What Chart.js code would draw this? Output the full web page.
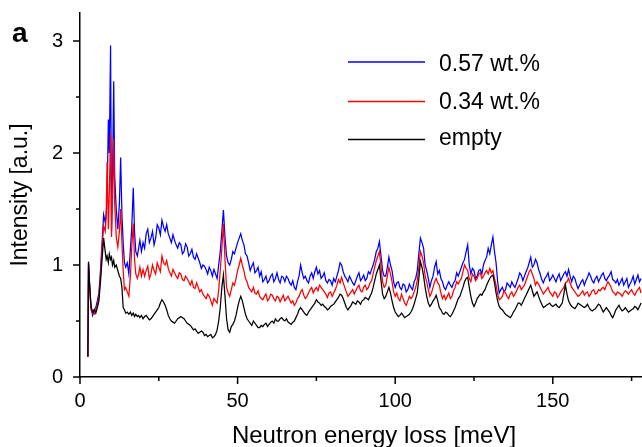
<!DOCTYPE html>
<html>
<head>
<meta charset="utf-8">
<script src="https://cdn.jsdelivr.net/npm/chart.js@4.4.1/dist/chart.umd.min.js"></script>
<style>
  html, body { margin: 0; padding: 0; background: #fff; }
  #wrap { width: 642px; height: 447px; }
</style>
</head>
<body>
<div id="wrap"><canvas id="spectrum" width="642" height="447"></canvas></div>
<script>
// Neutron energy loss [meV]
var energy = [
  2.5, 2.7, 3, 3.5, 4, 4.5, 5, 5.5, 6, 6.5,
  7, 7.5, 8, 8.3, 8.6, 9, 9.3, 9.7, 10, 10.3,
  10.7, 11, 11.5, 12, 12.5, 12.9, 13.3, 13.7, 14.1, 14.5,
  15, 15.5, 16, 16.4, 16.9, 17.3, 17.7, 18.2, 18.6, 19,
  19.5, 20,
  20.5, 21, 21.5, 22, 22.5, 23, 23.5, 24, 24.5, 25,
  25.5, 26, 26.5, 27, 27.5, 28, 28.5, 29, 29.5, 30,
  30.5, 31, 31.5, 32, 32.5, 33, 33.5, 34, 34.5, 35,
  35.5, 36, 36.5, 37, 37.5, 38, 38.5, 39, 39.5, 40,
  40.5, 41, 41.5, 42, 42.5, 43, 43.5, 44, 44.5, 45,
  45.5, 46, 46.5, 47, 47.5, 48, 48.5, 49, 49.5, 50,
  50.5, 51, 51.5, 52, 52.5, 53, 53.5, 54, 54.5, 55,
  55.5, 56, 56.5, 57, 57.5, 58, 58.5, 59, 59.5, 60,
  60.5, 61, 61.5, 62, 62.5, 63, 63.5, 64, 64.5, 65,
  65.5, 66, 66.5, 67, 67.5, 68, 68.5, 69, 69.5, 70,
  70.5, 71, 71.5, 72, 72.5, 73, 73.5, 74, 74.5, 75,
  75.5, 76, 76.5, 77, 77.5, 78, 78.5, 79, 79.5, 80,
  80.5, 81, 81.5, 82, 82.5, 83, 83.5, 84, 84.5, 85,
  85.5, 86, 86.5, 87, 87.5, 88, 88.5, 89, 89.5, 90,
  90.5, 91, 91.5, 92, 92.5, 93, 93.5, 94, 94.5, 95,
  95.5, 96, 96.5, 97, 97.5, 98, 98.5, 99, 99.5, 100,
  100.5, 101, 101.5, 102, 102.5, 103, 103.5, 104, 104.5, 105,
  105.5, 106, 106.5, 107, 107.5, 108, 108.5, 109, 109.5, 110,
  110.5, 111, 111.5, 112, 112.5, 113, 113.5, 114, 114.5, 115,
  115.5, 116, 116.5, 117, 117.5, 118, 118.5, 119, 119.5, 120,
  120.5, 121, 121.5, 122, 122.5, 123, 123.5, 124, 124.5, 125,
  125.5, 126, 126.5, 127, 127.5, 128, 128.5, 129, 129.5, 130,
  130.5, 131, 131.5, 132, 132.5, 133, 133.5, 134, 134.5, 135,
  135.5, 136, 136.5, 137, 137.5, 138, 138.5, 139, 139.5, 140,
  140.5, 141, 141.5, 142, 142.5, 143, 143.5, 144, 144.5, 145,
  145.5, 146, 146.5, 147, 147.5, 148, 148.5, 149, 149.5, 150,
  150.5, 151, 151.5, 152, 152.5, 153, 153.5, 154, 154.5, 155,
  155.5, 156, 156.5, 157, 157.5, 158, 158.5, 159, 159.5, 160,
  160.5, 161, 161.5, 162, 162.5, 163, 163.5, 164, 164.5, 165,
  165.5, 166, 166.5, 167, 167.5, 168, 168.5, 169, 169.5, 170,
  170.5, 171, 171.5, 172, 172.5, 173, 173.5, 174, 174.5, 175,
  175.5, 176, 176.5, 177, 177.5, 178
];

// 0.57 wt.% (blue)
var wt057 = [
  0.18, 1.02, 0.85, 0.62, 0.55, 0.6, 0.62, 0.68, 0.75, 0.95,
  1.2, 1.45, 1.38, 1.45, 1.6, 2.3, 2.0, 2.96, 1.3, 1.75,
  2.64, 1.8, 1.5, 1.32, 1.55, 1.96, 1.45, 1.2, 1.02, 0.98,
  1.02, 0.92, 1.15, 1.32, 1.69, 1.3, 1.12, 1.08, 1.15, 1.22,
  1.12, 1.2,
  1.15, 1.28, 1.32, 1.2, 1.24, 1.3, 1.18, 1.24, 1.36, 1.33,
  1.27, 1.4, 1.34, 1.3, 1.36, 1.28, 1.24, 1.2, 1.27, 1.22,
  1.18, 1.15, 1.2, 1.18, 1.1, 1.12, 1.19, 1.16, 1.08, 1.1,
  1.14, 1.07, 1.05, 1.1, 1.06, 1.02, 0.97, 1.0, 0.99, 0.96,
  0.92, 0.98, 0.95, 0.9, 0.96, 0.92, 0.88, 1.0, 1.12, 1.3,
  1.49, 1.25, 1.08, 1.02, 1.0, 1.05, 1.12, 1.1, 1.15, 1.2,
  1.24, 1.28, 1.22, 1.18, 1.1, 1.08, 1.02, 0.95, 0.99, 1.02,
  0.93, 0.95, 0.98, 0.9, 0.94, 0.85, 0.87, 0.9, 0.84, 0.86,
  0.9, 0.92, 0.85, 0.88, 0.93, 0.87, 0.84, 0.9, 0.89, 0.85,
  0.9, 0.88, 0.84, 0.82, 0.86, 0.8, 0.78, 0.85, 0.9, 1.0,
  0.93, 0.88, 0.9, 0.86, 0.84, 0.9, 0.93, 0.88, 0.94, 0.98,
  0.92, 0.95, 0.88, 0.9, 0.93, 0.86, 0.84, 0.87, 0.86, 0.82,
  0.88, 0.85, 0.9, 0.95, 1.02, 1.0, 0.94, 0.9, 0.88, 0.85,
  0.9, 0.87, 0.84, 0.82, 0.86, 0.9, 0.93, 0.86, 0.88, 0.91,
  0.86, 0.88, 0.94, 0.92, 0.96, 1.0, 1.05, 1.12, 1.15, 1.21,
  1.08, 0.95, 0.9, 0.9, 0.98, 1.07, 1.0, 0.95, 0.85, 0.8,
  0.84, 0.85, 0.8, 0.78, 0.83, 0.82, 0.76, 0.78, 0.83, 0.8,
  0.78, 0.85, 0.88, 0.95, 1.1, 1.24, 1.2, 1.15, 1.0, 0.95,
  0.88, 0.8, 0.86, 0.9, 0.98, 1.03, 0.92, 0.95, 0.88, 0.85,
  0.8, 0.78, 0.82, 0.85, 0.82, 0.8, 0.84, 0.86, 0.93, 0.9,
  0.94, 0.98, 1.02, 1.05, 1.12, 1.18, 1.0, 0.92, 0.97, 0.95,
  0.88, 0.9, 0.95, 0.96, 0.92, 1.0, 1.04, 1.07, 1.15, 1.1,
  1.18, 1.25, 1.12, 1.02, 0.85, 0.75, 0.78, 0.8, 0.76, 0.78,
  0.84, 0.82, 0.8, 0.85, 0.82, 0.8, 0.84, 0.88, 0.93, 0.91,
  0.86, 0.9, 0.94, 0.97, 1.02, 1.07, 0.98, 1.0, 1.05, 1.02,
  0.96, 0.92, 0.87, 0.84, 0.88, 0.9, 0.93, 0.86, 0.88, 0.91,
  0.88, 0.85, 0.89, 0.92, 0.86, 0.89, 0.92, 0.94, 0.9, 0.96,
  0.9, 0.85, 0.9, 0.88, 0.83, 0.79, 0.82, 0.85, 0.87, 0.82,
  0.86, 0.89, 0.93, 0.9, 0.86, 0.84, 0.88, 0.9, 0.85, 0.88,
  0.91, 0.93, 0.88, 0.86, 0.89, 0.91, 0.94, 0.87, 0.86, 0.84,
  0.87, 0.82, 0.85, 0.88, 0.82, 0.85, 0.88, 0.8, 0.83, 0.86,
  0.9, 0.83, 0.87, 0.91, 0.85, 0.88
];

// 0.34 wt.% (red)
var wt034 = [
  0.18, 1.0, 0.82, 0.6, 0.57, 0.56, 0.6, 0.64, 0.72, 0.9,
  1.15, 1.35, 1.3, 1.42, 1.92, 1.32, 1.65, 2.18, 1.25, 1.6,
  2.12, 1.55, 1.25, 1.16, 1.3, 1.5, 1.2, 0.95, 0.78, 0.8,
  0.76, 0.72, 0.9, 1.15, 1.37, 1.05, 0.92, 0.88, 0.92, 0.98,
  0.9, 0.96,
  0.9, 0.95, 0.99, 0.88, 0.92, 1.0, 0.95, 0.92, 1.02, 0.98,
  0.94, 1.08, 1.02, 1.0, 1.04, 0.97, 0.93, 0.9, 0.96, 0.93,
  0.9, 0.88, 0.93, 0.92, 0.87, 0.86, 0.9, 0.88, 0.85, 0.82,
  0.86, 0.8, 0.79, 0.84, 0.8, 0.76, 0.78, 0.74, 0.72, 0.7,
  0.74, 0.72, 0.68, 0.64, 0.7, 0.68, 0.66, 0.78, 0.95, 1.15,
  1.37, 1.05, 0.8, 0.75, 0.72, 0.78, 0.84, 0.82, 0.88, 0.95,
  1.0, 1.06, 1.0, 0.95, 0.88, 0.85, 0.8, 0.78, 0.76, 0.8,
  0.75, 0.74, 0.77, 0.72, 0.7, 0.69, 0.72, 0.74, 0.68, 0.7,
  0.74, 0.73, 0.7, 0.68, 0.72, 0.71, 0.67, 0.7, 0.73, 0.68,
  0.7, 0.72, 0.69, 0.66, 0.68, 0.64, 0.66, 0.7, 0.72, 0.76,
  0.78, 0.73, 0.7, 0.72, 0.75, 0.78, 0.8, 0.75, 0.78, 0.8,
  0.77, 0.82, 0.8, 0.78, 0.76, 0.74, 0.71, 0.75, 0.76, 0.72,
  0.75, 0.78, 0.82, 0.87, 0.84, 0.89, 0.84, 0.8, 0.76, 0.72,
  0.74, 0.76, 0.78, 0.74, 0.77, 0.8, 0.82, 0.77, 0.76, 0.8,
  0.82, 0.78, 0.8, 0.84, 0.86, 0.92, 0.98, 1.04, 1.08, 1.12,
  0.98, 0.85, 0.8, 0.82, 0.9, 0.98, 0.92, 0.85, 0.76, 0.72,
  0.75, 0.7, 0.68, 0.74, 0.7, 0.66, 0.64, 0.68, 0.72, 0.7,
  0.72, 0.76, 0.8, 0.86, 0.98, 1.12, 1.08, 1.02, 0.9, 0.85,
  0.78, 0.72, 0.75, 0.8, 0.85, 0.88, 0.84, 0.82, 0.75, 0.7,
  0.73, 0.69, 0.72, 0.75, 0.7, 0.72, 0.77, 0.8, 0.85, 0.83,
  0.86, 0.88, 0.94, 1.0, 0.97, 0.95, 0.88, 0.85, 0.92, 0.9,
  0.86, 0.88, 0.92, 0.93, 0.88, 0.9, 0.93, 0.95, 0.92, 0.97,
  0.93, 0.95, 0.88, 0.82, 0.74, 0.69, 0.7, 0.72, 0.77, 0.75,
  0.72, 0.7, 0.74, 0.76, 0.72, 0.74, 0.77, 0.8, 0.82, 0.78,
  0.8, 0.82, 0.86, 0.9, 0.94, 0.96, 0.92, 0.88, 0.82, 0.85,
  0.83, 0.8, 0.77, 0.74, 0.76, 0.78, 0.8, 0.76, 0.74, 0.72,
  0.76, 0.75, 0.71, 0.73, 0.76, 0.78, 0.8, 0.84, 0.85, 0.88,
  0.84, 0.8, 0.78, 0.76, 0.74, 0.72, 0.73, 0.75, 0.77, 0.73,
  0.75, 0.76, 0.72, 0.74, 0.77, 0.78, 0.74, 0.75, 0.78, 0.77,
  0.79, 0.8, 0.78, 0.82, 0.85, 0.83, 0.8, 0.76, 0.75, 0.73,
  0.76, 0.75, 0.74, 0.72, 0.75, 0.77, 0.76, 0.74, 0.76, 0.78,
  0.75, 0.73, 0.76, 0.78, 0.8, 0.75
];

// empty (black)
var empty = [
  0.18, 1.03, 0.85, 0.63, 0.58, 0.6, 0.57, 0.62, 0.68, 0.85,
  1.05, 1.24, 1.12, 1.05, 1.08, 1.02, 1.1, 1.05, 1.07, 1.0,
  1.04, 0.98, 1.0, 0.95, 0.9, 0.88, 0.8, 0.62, 0.6, 0.57,
  0.58, 0.56, 0.58, 0.55, 0.57, 0.54, 0.56, 0.54, 0.55, 0.53,
  0.55, 0.52,
  0.54, 0.55, 0.53, 0.51, 0.52, 0.54, 0.56, 0.58, 0.6, 0.62,
  0.66, 0.69, 0.67, 0.64, 0.6, 0.55, 0.52, 0.5, 0.49, 0.48,
  0.5, 0.52, 0.53, 0.54, 0.53, 0.52, 0.5, 0.48, 0.47, 0.46,
  0.44, 0.42, 0.43, 0.41, 0.39, 0.4, 0.41, 0.4, 0.37, 0.38,
  0.36, 0.37, 0.38, 0.35, 0.36, 0.38, 0.42, 0.5, 0.62, 0.8,
  0.91, 0.72, 0.52, 0.42, 0.4, 0.45, 0.47, 0.5, 0.55, 0.62,
  0.68, 0.72, 0.68, 0.62, 0.56, 0.52, 0.5, 0.48, 0.46, 0.5,
  0.48, 0.46, 0.44, 0.44, 0.46, 0.45, 0.47, 0.48, 0.45, 0.47,
  0.49, 0.5, 0.48, 0.52, 0.5, 0.5, 0.52, 0.53, 0.51, 0.5,
  0.52, 0.49, 0.48, 0.47, 0.49, 0.5, 0.53, 0.56, 0.6, 0.62,
  0.6, 0.58, 0.56, 0.55, 0.58, 0.6, 0.62, 0.64, 0.66, 0.69,
  0.67, 0.66, 0.64, 0.65, 0.63, 0.62, 0.6, 0.61, 0.63, 0.64,
  0.65, 0.67, 0.69, 0.71, 0.74, 0.73, 0.7, 0.66, 0.62, 0.6,
  0.62, 0.64, 0.67, 0.66, 0.65, 0.68, 0.67, 0.65, 0.68, 0.69,
  0.71, 0.7, 0.69, 0.72, 0.75, 0.8, 0.86, 0.92, 0.96, 1.0,
  0.86, 0.74, 0.7, 0.72, 0.76, 0.8, 0.75, 0.68, 0.62, 0.58,
  0.56, 0.54, 0.55, 0.57, 0.55, 0.53, 0.54, 0.55, 0.56, 0.58,
  0.61, 0.65, 0.7, 0.75, 0.88, 1.03, 0.98, 0.9, 0.8, 0.72,
  0.66, 0.63, 0.65, 0.68, 0.7, 0.73, 0.68, 0.62, 0.6, 0.57,
  0.56, 0.58, 0.57, 0.55, 0.54, 0.56, 0.59, 0.62, 0.66, 0.7,
  0.72, 0.76, 0.8, 0.85, 0.88, 0.89, 0.8, 0.72, 0.66, 0.63,
  0.66, 0.7, 0.72, 0.74, 0.73, 0.76, 0.78, 0.82, 0.85, 0.88,
  0.9, 0.91, 0.84, 0.75, 0.68, 0.63, 0.61, 0.6, 0.58, 0.56,
  0.55, 0.54, 0.53, 0.55, 0.58, 0.6, 0.63, 0.66, 0.66, 0.64,
  0.67, 0.7, 0.73, 0.76, 0.79, 0.82, 0.77, 0.72, 0.74, 0.76,
  0.72, 0.68, 0.65, 0.62, 0.63, 0.64, 0.65, 0.66, 0.64, 0.63,
  0.64, 0.65, 0.63, 0.62, 0.64, 0.66, 0.74, 0.82, 0.74, 0.68,
  0.65, 0.63, 0.62, 0.61, 0.63, 0.66, 0.65, 0.64, 0.63, 0.62,
  0.63, 0.65, 0.62, 0.6, 0.59, 0.6, 0.61, 0.63, 0.65, 0.64,
  0.61, 0.58, 0.6, 0.62, 0.6, 0.58, 0.55, 0.53, 0.56, 0.6,
  0.62, 0.64, 0.61, 0.59, 0.6, 0.62, 0.6, 0.58, 0.59, 0.6,
  0.61, 0.63, 0.62, 0.6, 0.63, 0.66
];

var seriesNames = ["0.57 wt.%", "0.34 wt.%", "empty"];
var seriesColors = ["#0000ff", "#ff0000", "#000000"];
var xMajorTicks = [0, 50, 100, 150];
var xMinorTicks = [25, 75, 125, 175];
var yMajorTicks = [0, 1, 2, 3];
var yMinorTicks = [0.5, 1.5, 2.5];

var FONT = "'Liberation Sans', Arial, Helvetica, sans-serif";

function toPoints(vals) {
  return energy.map(function (e, i) { return { x: e, y: vals[i] }; });
}

// tick marks (major long, minor short), x title, legend and panel letter
var decorations = {
  id: "decorations",
  afterDraw: function (chart) {
    var ctx = chart.ctx;
    var xs = chart.scales.x, ys = chart.scales.y;
    var x0 = chart.chartArea.left, y0 = chart.chartArea.bottom;
    ctx.save();
    ctx.strokeStyle = "#000";
    ctx.lineWidth = 1.5;
    ctx.beginPath();
    xMajorTicks.forEach(function (v) { var p = xs.getPixelForValue(v); ctx.moveTo(p, y0); ctx.lineTo(p, y0 + 7); });
    xMinorTicks.forEach(function (v) { var p = xs.getPixelForValue(v); ctx.moveTo(p, y0); ctx.lineTo(p, y0 + 4); });
    yMajorTicks.forEach(function (v) { var p = ys.getPixelForValue(v); ctx.moveTo(x0, p); ctx.lineTo(x0 - 7, p); });
    yMinorTicks.forEach(function (v) { var p = ys.getPixelForValue(v); ctx.moveTo(x0, p); ctx.lineTo(x0 - 4, p); });
    ctx.stroke();

    ctx.fillStyle = "#000";
    ctx.font = "24px " + FONT;
    ctx.textAlign = "center";
    ctx.textBaseline = "middle";
    ctx.fillText("Neutron energy loss [meV]", 374, 436);

    // legend
    var lineY = [62, 101.5, 139.5];
    var textY = [70.5, 109, 144.5];
    ctx.lineWidth = 1.3;
    ctx.font = "23px " + FONT;
    ctx.textAlign = "left";
    ctx.textBaseline = "alphabetic";
    seriesNames.forEach(function (name, i) {
      ctx.strokeStyle = seriesColors[i];
      ctx.beginPath();
      ctx.moveTo(348, lineY[i]);
      ctx.lineTo(425, lineY[i]);
      ctx.stroke();
      ctx.fillText(name, 439, textY[i]);
    });

    ctx.font = "bold 28px " + FONT;
    ctx.fillText("a", 12, 42);
    ctx.restore();
  }
};

new Chart(document.getElementById("spectrum"), {
  type: "line",
  data: {
    datasets: [
      { label: seriesNames[0], data: toPoints(wt057), borderColor: seriesColors[0], order: 2 },
      { label: seriesNames[1], data: toPoints(wt034), borderColor: seriesColors[1], order: 1 },
      { label: seriesNames[2], data: toPoints(empty), borderColor: seriesColors[2], order: 0 },
    ],
  },
  options: {
    responsive: false,
    animation: false,
    devicePixelRatio: 1,
    layout: { padding: { top: 13, right: 0, left: 0, bottom: 0 } },
    elements: {
      line: { borderWidth: 1.25, tension: 0, fill: false },
      point: { radius: 0 },
    },
    plugins: {
      legend: { display: false },
      tooltip: { enabled: false },
    },
    scales: {
      x: {
        type: "linear",
        min: 0,
        max: 178.3,
        afterBuildTicks: function (s) { s.ticks = xMajorTicks.map(function (v) { return { value: v }; }); },
        afterFit: function (s) { s.height = 70; s.paddingRight = 0; },
        grid: { display: false, drawTicks: false, tickLength: 0 },
        border: { display: true, color: "#000", width: 1.5 },
        ticks: { color: "#000", font: { family: FONT, size: 20 }, padding: 12, maxRotation: 0 },
      },
      y: {
        min: 0,
        max: 3.25,
        afterBuildTicks: function (s) { s.ticks = yMajorTicks.map(function (v) { return { value: v }; }); },
        afterFit: function (s) { s.width = 80; s.paddingTop = 0; },
        grid: { display: false, drawTicks: false, tickLength: 0 },
        border: { display: true, color: "#000", width: 1.5 },
        ticks: { color: "#000", font: { family: FONT, size: 20 }, padding: 17 },
        title: {
          display: true,
          text: "Intensity [a.u.]",
          color: "#000",
          font: { family: FONT, size: 23, lineHeight: 1 },
          padding: { top: 9, bottom: 0 },
        },
      },
    },
  },
  plugins: [decorations],
});
</script>
</body>
</html>
